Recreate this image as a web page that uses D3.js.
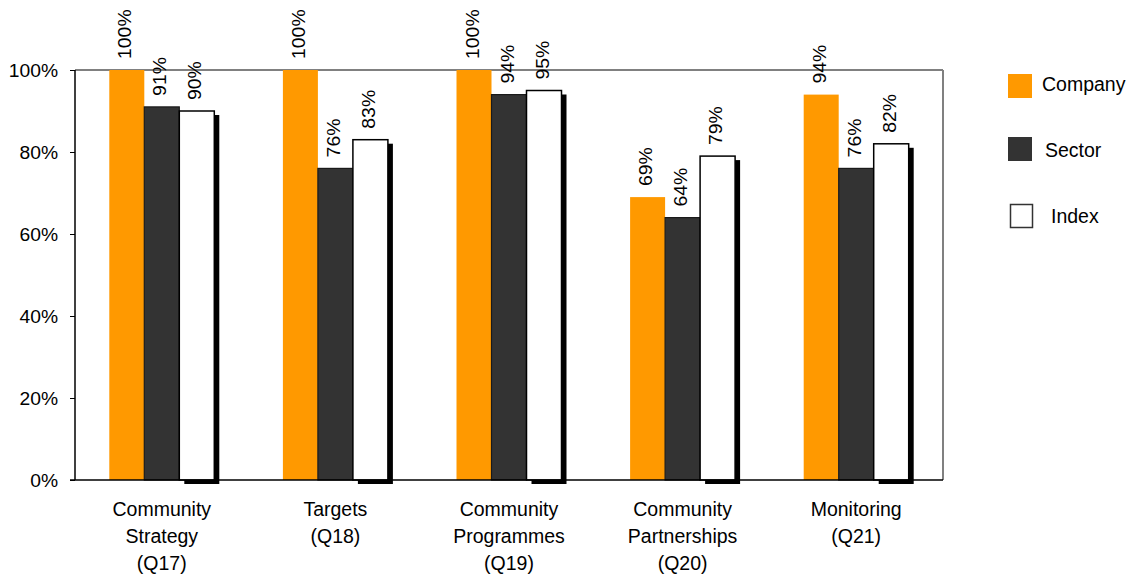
<!DOCTYPE html>
<html><head><meta charset="utf-8">
<script src="https://cdn.jsdelivr.net/npm/d3@7"></script>
<style>body{margin:0;background:#fff}svg{display:block;font-family:"Liberation Sans",Arial,sans-serif}</style>
</head><body><svg id="c" width="1133" height="576"></svg>
<script>
const categories = [["Community","Strategy","(Q17)"],["Targets","(Q18)"],["Community","Programmes","(Q19)"],["Community","Partnerships","(Q20)"],["Monitoring","(Q21)"]];
const seriesNames = ["Company","Sector","Index"];
const company = [100,100,100,69,94];
const sector = [91,76,94,64,76];
const index = [90,83,95,79,82];
const yTicks = [0,20,40,60,80,100];
const colors = {Company:"#FF9900",Sector:"#333333",Index:"#FFFFFF"};

const svg = d3.select("#c");
const L=75,R=943,T=70,B=480;
const x0 = d3.scaleBand().domain(d3.range(categories.length)).range([L,R]);
const groupW = 105;
const x1 = d3.scaleBand().domain(seriesNames).range([0,groupW]);
const y = d3.scaleLinear().domain([0,100]).range([B,T]);
const data = seriesNames.map((s,i)=>({name:s, values:[company,sector,index][i]}));

// frame
svg.append("line").attr("x1",L).attr("x2",R).attr("y1",T).attr("y2",T).attr("stroke","#808080").attr("stroke-width",2);
svg.append("line").attr("x1",R).attr("x2",R).attr("y1",T).attr("y2",B).attr("stroke","#808080").attr("stroke-width",2);

const gx = i => x0(i)+x0.bandwidth()/2-groupW/2;

// shadows for index
svg.append("g").selectAll("rect").data(index).join("rect")
  .attr("x",(d,i)=>gx(i)+x1("Index")+5).attr("y",d=>y(d)+4)
  .attr("width",x1.bandwidth()).attr("height",d=>B-y(d))
  .attr("fill","#000");

data.forEach(s=>{
  svg.append("g").selectAll("rect").data(s.values).join("rect")
    .attr("x",(d,i)=>gx(i)+x1(s.name)).attr("y",d=>y(d))
    .attr("width",x1.bandwidth()).attr("height",d=>B-y(d))
    .attr("fill",colors[s.name])
    .attr("stroke",s.name==="Company"?"none":(s.name==="Sector"?"#1a1a1a":"#000"))
    .attr("stroke-width",s.name==="Index"?1.5:1.2);
  svg.append("g").selectAll("text").data(s.values).join("text")
    .attr("transform",(d,i)=>`translate(${gx(i)+x1(s.name)+x1.bandwidth()/2+4.5},${y(d)-11}) rotate(-90) scale(1.08,1)`)
    .attr("font-size",18).attr("fill","#000")
    .text(d=>d+"%");
});

// axes
const ya = d3.axisLeft(y).tickValues(yTicks).tickFormat(d=>d+"%").tickSize(5).tickPadding(0);
const gy = svg.append("g").attr("transform",`translate(${L},0)`).call(ya);
gy.select(".domain").attr("stroke","#000").attr("stroke-width",1.5).attr("d",`M0,${T}V${B}`);
gy.selectAll(".tick line").attr("stroke","#000");
gy.selectAll("text").attr("font-size",18).attr("font-family","Liberation Sans, Arial, sans-serif").attr("fill","#000")
  .attr("x",null).attr("dy",null).attr("transform","translate(-17,6.5) scale(1.07,1)");
svg.append("line").attr("x1",L-5).attr("x2",R).attr("y1",B).attr("y2",B).attr("stroke","#000").attr("stroke-width",1.5);

// category labels
categories.forEach((lines,i)=>{
  const t = svg.append("text").attr("text-anchor","middle").attr("font-size",19.5).attr("fill","#000");
  lines.forEach((ln,j)=>t.append("tspan").attr("x",x0(i)+x0.bandwidth()/2).attr("y",516+j*27).text(ln));
});

// legend
const lg = [{n:"Company",y:74,tx:1042,ty:91},{n:"Sector",y:137,tx:1045,ty:157},{n:"Index",y:204,tx:1051,ty:223}];
lg.forEach((l,i)=>{
  svg.append("rect").attr("x",l.n==="Index"?1010.5:1008).attr("y",l.y+(l.n==="Index"?0.5:0)).attr("width",l.n==="Index"?22:24).attr("height",l.n==="Index"?23:24)
    .attr("fill",colors[l.n]).attr("stroke",l.n==="Index"?"#333":"none").attr("stroke-width",1.5);
  svg.append("text").attr("x",l.tx).attr("y",l.ty).attr("font-size",19.5).attr("fill","#000").text(l.n);
});
</script></body></html>
